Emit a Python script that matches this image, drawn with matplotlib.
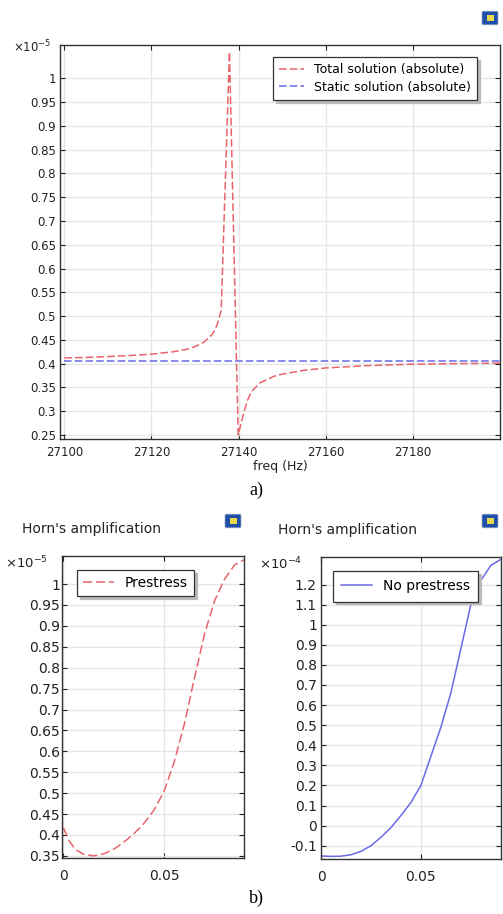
import numpy as np
import matplotlib
matplotlib.use('Agg')
import matplotlib.pyplot as plt
from matplotlib.patches import FancyBboxPatch

# top panel: frequency sweep
freq = [27100, 27105, 27110, 27115, 27120, 27125, 27128, 27130, 27132, 27134,
        27135, 27136, 27137.9, 27139.9, 27141, 27142, 27143, 27145, 27148, 27150,
        27155, 27160, 27170, 27180, 27190, 27200]
total_abs = [0.412, 0.413, 0.415, 0.417, 0.420, 0.425, 0.430, 0.436, 0.445, 0.462,
             0.480, 0.512, 1.055, 0.250, 0.290, 0.322, 0.342, 0.360, 0.373, 0.378,
             0.386, 0.391, 0.396, 0.399, 0.400, 0.401]
static_freq = [27100, 27200]
static_abs = [0.405, 0.405]

# bottom panels: horn amplification
x_pre = [0, 0.003, 0.006, 0.01, 0.015, 0.02, 0.025, 0.03, 0.035, 0.04, 0.045,
         0.05, 0.055, 0.06, 0.065, 0.07, 0.075, 0.08, 0.085, 0.0896]
y_pre = [0.417, 0.385, 0.365, 0.354, 0.350, 0.355, 0.366, 0.383, 0.403, 0.428, 0.460,
         0.505, 0.575, 0.665, 0.775, 0.880, 0.960, 1.012, 1.046, 1.058]
x_nopre = [0, 0.005, 0.01, 0.015, 0.02, 0.025, 0.03, 0.035, 0.04, 0.045, 0.05,
           0.055, 0.06, 0.065, 0.07, 0.075, 0.08, 0.085, 0.09]
y_nopre = [-0.151, -0.153, -0.152, -0.145, -0.128, -0.100, -0.058, -0.010, 0.050,
           0.115, 0.200, 0.345, 0.490, 0.660, 0.880, 1.100, 1.220, 1.295, 1.325]

RED = '#e8646c'
BLUE = '#6a6ae6'
W, H = 503, 914

plt.rcParams['font.family'] = 'DejaVu Sans'
fig = plt.figure(figsize=(W / 100, H / 100), dpi=100)


def px_axes(left, top, right, bottom):
    return fig.add_axes([left / W, 1 - bottom / H, (right - left) / W, (bottom - top) / H])


def style(ax, size, xpad, ypad):
    ax.grid(True, color='#e6e6e6', lw=1.0)
    ax.set_axisbelow(True)
    ax.tick_params(direction='in', top=True, right=True, length=3.5, labelsize=size,
                   colors='#222222')
    ax.tick_params(axis='x', pad=xpad)
    ax.tick_params(axis='y', pad=ypad)
    ax.yaxis.set_major_formatter(plt.FuncFormatter(lambda v, p: f'{v:g}'))
    ax.xaxis.set_major_formatter(plt.FuncFormatter(lambda v, p: f'{v:g}'))
    for s in ax.spines.values():
        s.set_color('#333333')
        s.set_linewidth(1.0)


def legend(ax, anchor, size, pad, hl=2.2):
    leg = ax.legend(loc='upper left', bbox_to_anchor=anchor, fontsize=size, fancybox=False,
                    shadow={'color': '#bbbbbb', 'alpha': 1}, edgecolor='#333333',
                    handlelength=hl, borderpad=pad, labelspacing=0.35, borderaxespad=0)
    leg.get_frame().set_linewidth(0.9)
    return leg


def icon(xp, yp):
    fig.patches.append(FancyBboxPatch(((xp - 7) / W, 1 - (yp + 5) / H), 14 / W, 10 / H,
                                      boxstyle='round,pad=0.002', fc='#1f4fa8', ec='#9ab',
                                      lw=0.5, transform=fig.transFigure))
    fig.patches.append(plt.Rectangle(((xp - 3) / W, 1 - (yp + 3) / H), 7 / W, 6 / H,
                                     fc='#e8d84a', ec='none', transform=fig.transFigure))


# ---- a) ----
ax = px_axes(60, 45, 500, 439)
style(ax, 8.5, 5, 3)
ax.plot(freq, total_abs, color=RED, lw=1.1, dashes=(5, 2), label='Total solution (absolute)')
ax.plot(static_freq, static_abs, color=BLUE, lw=1.1, dashes=(5, 2), label='Static solution (absolute)')
ax.set_xlim(27099, 27200)
ax.set_ylim(0.2416, 1.07)
ax.set_xticks([27100, 27120, 27140, 27160, 27180])
ax.set_yticks(np.round(np.arange(0.25, 1.001, 0.05), 2))
ax.set_xlabel('freq (Hz)', fontsize=9, color='#222222', labelpad=1)
legend(ax, (0.484, 0.9695), 9, 0.5, hl=2.0)
fig.text(13 / W, 1 - 47 / H, r'$\times 10^{-5}$', fontsize=8.5, color='#222222',
         va='center', ha='left', math_fontfamily='dejavusans')
fig.text(256 / W, 1 - 490 / H, 'a)', fontsize=13, family='Liberation Serif',
         ha='center', va='center')
icon(490, 18)

# ---- b) left ----
ax1 = px_axes(62, 556, 244, 858)
style(ax1, 10, 8, 1.5)
ax1.plot(x_pre, y_pre, color=RED, lw=1.1, dashes=(6, 2.5), label='Prestress')
ax1.set_xlim(-0.0007, 0.0896)
ax1.set_ylim(0.345, 1.067)
ax1.set_xticks([0, 0.05])
ax1.set_yticks(np.round(np.arange(0.35, 1.001, 0.05), 2))
legend(ax1, (0.082, 0.954), 10, 0.45)
fig.text(5 / W, 1 - 563 / H, r'$\times 10^{-5}$', fontsize=9.5, color='#222222',
         va='center', ha='left', math_fontfamily='dejavusans')
fig.text(22 / W, 1 - 529 / H, "Horn's amplification", fontsize=10, color='#222222',
         va='center', ha='left')
icon(233, 521)

# ---- b) right ----
ax2 = px_axes(321, 557, 501, 859)
style(ax2, 10, 8, 3)
ax2.plot(x_nopre, y_nopre, color=BLUE, lw=1.1, label='No prestress')
ax2.set_xlim(0, 0.0901)
ax2.set_ylim(-0.166, 1.337)
ax2.set_xticks([0, 0.05])
ax2.set_yticks(np.round(np.arange(-0.1, 1.201, 0.1), 1))
legend(ax2, (0.067, 0.954), 10, 0.6)
fig.text(259 / W, 1 - 564 / H, r'$\times 10^{-4}$', fontsize=9.5, color='#222222',
         va='center', ha='left', math_fontfamily='dejavusans')
fig.text(278 / W, 1 - 530 / H, "Horn's amplification", fontsize=10, color='#222222',
         va='center', ha='left')
icon(490, 521)

fig.text(256 / W, 1 - 898 / H, 'b)', fontsize=13, family='Liberation Serif',
         ha='center', va='center')

fig.savefig('out.png', dpi=100)
